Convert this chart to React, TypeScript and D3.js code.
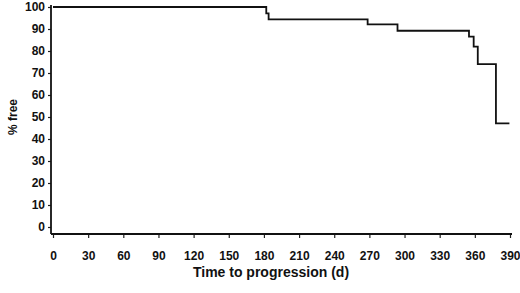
import React, { useEffect, useRef } from 'react';
import * as d3 from 'd3';

// Kaplan-Meier style step curve (time in days, % free)
const times = [0, 182, 184, 268.5, 294, 355, 359, 362.5, 378, 389.5];
const pctFree = [100, 97.1, 94.4, 92.1, 89.2, 86.5, 82, 74, 47.1, 47.1];
const xTicks = [0, 30, 60, 90, 120, 150, 180, 210, 240, 270, 300, 330, 360, 390];
const yTicks = [0, 10, 20, 30, 40, 50, 60, 70, 80, 90, 100];

const W = 520;
const H = 293;

const App = () => {
  const ref = useRef<SVGSVGElement>(null);

  useEffect(() => {
    const svg = d3.select(ref.current);
    svg.selectAll('*').remove();

    const x = d3.scaleLinear().domain([0, 390]).range([53, 510]);
    const y = d3.scaleLinear().domain([0, 100]).range([227, 7]);
    const axisY = 234;
    const axisX = 51;

    const font = '"Liberation Sans", Arial, sans-serif';

    // y axis
    const gy = svg.append('g')
      .attr('transform', `translate(${axisX},0)`)
      .call(d3.axisLeft(y).tickValues(yTicks).tickSize(3).tickPadding(3));
    gy.select('.domain').remove();
    gy.selectAll('text').style('font-family', font).style('font-weight', 'bold').style('font-size', '12px').attr('fill', '#111');
    gy.selectAll('line').attr('stroke', '#222').attr('stroke-width', 1.2);

    // x axis
    const gx = svg.append('g')
      .attr('transform', `translate(0,${axisY})`)
      .call(d3.axisBottom(x).tickValues(xTicks).tickSize(4).tickPadding(13));
    gx.select('.domain').remove();
    gx.selectAll('text').style('font-family', font).style('font-weight', 'bold').style('font-size', '12px').attr('fill', '#111');
    gx.selectAll('line').attr('stroke', '#222').attr('stroke-width', 1.2);

    // axis lines
    svg.append('line')
      .attr('x1', axisX).attr('x2', axisX).attr('y1', 5).attr('y2', axisY)
      .attr('stroke', '#111').attr('stroke-width', 1.8);
    svg.append('line')
      .attr('x1', axisX).attr('x2', 512).attr('y1', axisY).attr('y2', axisY)
      .attr('stroke', '#111').attr('stroke-width', 1.8);

    // step curve
    const line = d3.line<number>()
      .x((d, i) => x(times[i]))
      .y(d => y(d))
      .curve(d3.curveStepAfter);
    svg.append('path')
      .attr('d', line(pctFree))
      .attr('fill', 'none')
      .attr('stroke', '#111')
      .attr('stroke-width', 1.8);

    // titles
    svg.append('text')
      .attr('x', 271).attr('y', 277)
      .attr('text-anchor', 'middle')
      .style('font-family', font).style('font-weight', 'bold').style('font-size', '14px')
      .attr('fill', '#111')
      .text('Time to progression (d)');

    svg.append('text')
      .attr('transform', 'translate(17,117) rotate(-90)')
      .attr('text-anchor', 'middle')
      .style('font-family', font).style('font-weight', 'bold').style('font-size', '12px')
      .attr('fill', '#111')
      .text('% free');
  }, []);

  return (
    <svg ref={ref} width={W} height={H}
      style={{ position: 'absolute', left: 0, top: 0, background: '#fff' }} />
  );
};

export default App;
